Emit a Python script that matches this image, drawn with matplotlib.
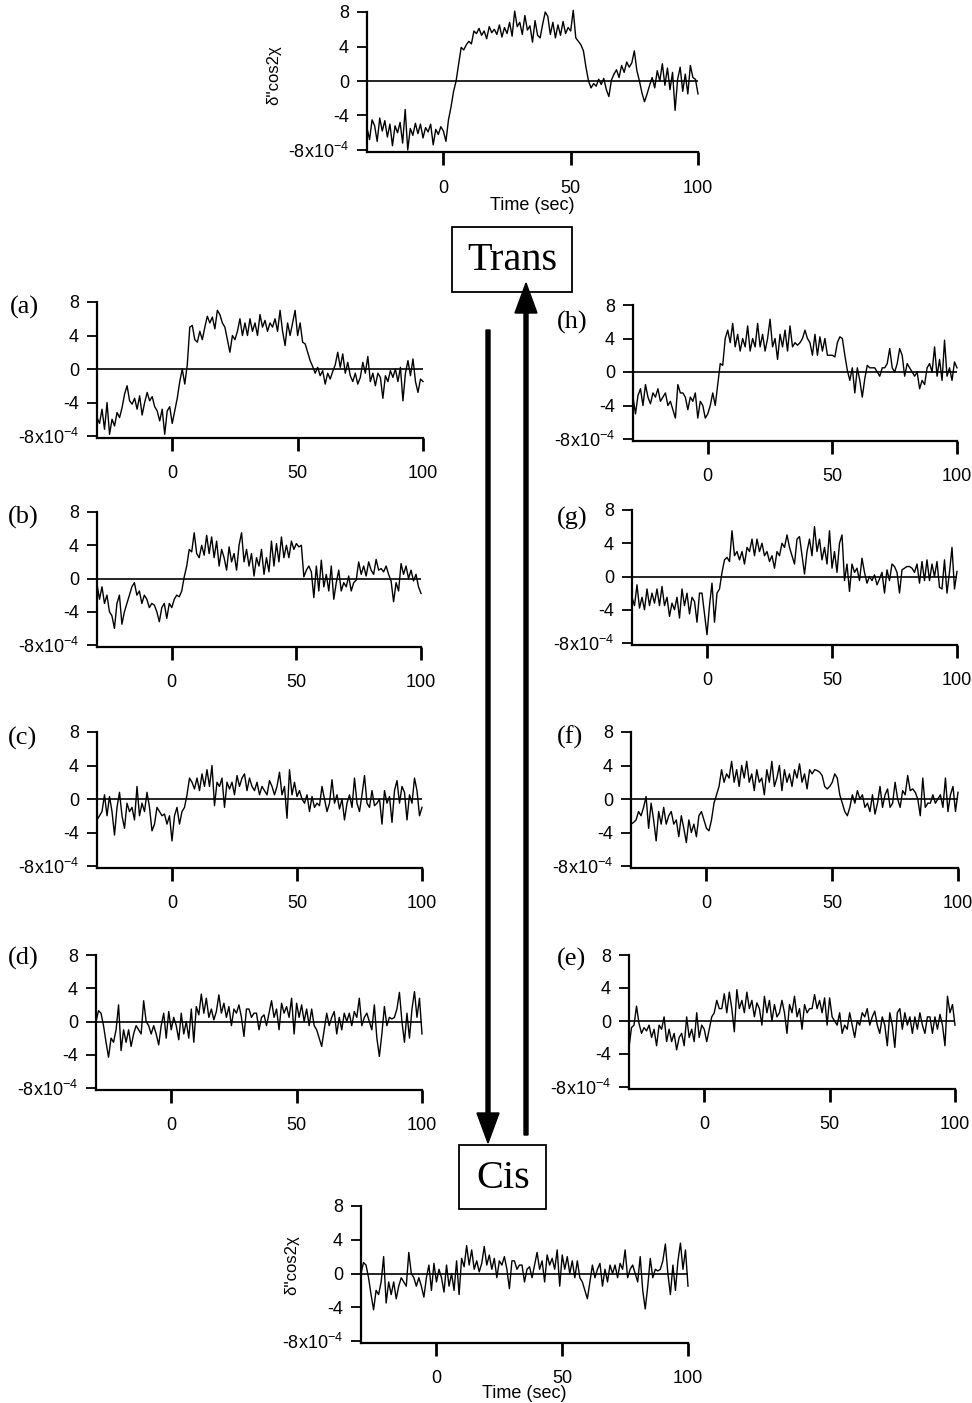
import numpy as np
import matplotlib
matplotlib.use('Agg')
import matplotlib.pyplot as plt
from matplotlib.patches import FancyArrow, Rectangle

plt.rcParams['font.family'] = ['Liberation Sans', 'DejaVu Sans']
plt.rcParams['mathtext.fontset'] = 'custom'
plt.rcParams['mathtext.rm'] = 'Liberation Sans'
plt.rcParams['mathtext.it'] = 'Liberation Sans:italic'
plt.rcParams['mathtext.bf'] = 'Liberation Sans:bold'
plt.rcParams['mathtext.sf'] = 'Liberation Sans'

W, H = 972, 1403

# tempo (s), um ponto por segundo
t = np.arange(-30, 101)

trans = [-5.4, -6.8, -4.5, -5.2, -7.0, -4.3, -5.8, -4.6, -6.5, -5.0,
         -7.5, -5.2, -6.0, -4.8, -7.2, -3.3, -8.0, -5.5, -6.3, -4.9,
         -6.1, -5.0, -6.6, -5.4, -5.9, -5.0, -7.4, -5.6, -6.2, -5.3,
         -5.8, -7.0, -4.5, -3.0, -1.2, 0.0, 2.0, 3.9, 3.6, 4.2,
         4.6, 4.3, 5.8, 5.5, 6.1, 5.3, 5.8, 4.9, 6.3, 5.6,
         6.0, 5.4, 6.5, 5.1, 6.2, 5.5, 6.8, 5.2, 8.1, 6.3,
         6.8, 5.4, 7.6, 5.9, 6.4, 4.5, 7.0, 5.3, 5.0, 6.6,
         8.0, 7.5, 5.4, 6.8, 5.0, 6.5, 5.3, 6.9, 5.5, 6.2,
         5.8, 8.2, 5.0, 4.6, 4.2, 3.5, 1.6, 0.0, -0.8, -0.3,
         -0.6, 0.2, -0.4, 0.3, -1.0, -1.8, 0.1, 0.8, 1.3, 0.4,
         1.8, 1.0, 2.2, 1.6, 2.1, 3.5, 1.2, 0.0, -1.4, -2.4,
         -1.5, -0.5, 0.4, -0.8, 1.2, 0.0, 2.0, -0.5, 1.5, -1.0,
         1.0, -3.4, 0.2, 1.6, -1.2, 0.8, -1.5, 1.8, 0.4, 0.2,
         -1.5]

a = [-5.8, -6.5, -4.8, -7.2, -4.0, -7.8, -6.0, -6.8, -5.2, -5.8,
     -4.6, -3.0, -2.0, -3.8, -4.2, -3.5, -4.8, -3.2, -5.5, -4.0,
     -2.8, -3.8, -3.3, -4.5, -5.0, -6.2, -4.8, -7.8, -5.0, -4.5,
     -6.5, -5.0, -3.5, -1.5, 0.0, -1.8, 0.5, 5.0, 5.2, 3.5,
     3.2, 4.5, 3.5, 5.0, 6.3, 5.5, 6.2, 4.8, 7.0, 6.5,
     5.5, 5.0, 3.5, 2.0, 4.0, 3.5, 4.5, 6.0, 4.0, 5.5,
     4.0, 6.0, 4.5, 5.5, 4.0, 6.5, 5.0, 5.8, 4.5, 5.5,
     5.0, 6.0, 4.5, 7.0, 4.5, 2.8, 5.5, 4.0, 5.5, 7.0,
     4.0, 5.5, 3.2, 3.0, 2.0, 1.0, 0.3, -0.5, 0.2, -0.8,
     -0.2, -1.8, -0.5, -1.2, -0.3, 0.5, 2.0, 0.2, 1.8, -0.5,
     0.8, -0.8, -1.5, -0.5, -1.8, -1.0, 0.8, -0.5, 1.5, -1.5,
     -0.5, -2.0, -0.5, -1.0, -3.5, -0.8, -1.5, -0.2, -1.0, 0.0,
     -1.5, 0.2, -3.8, -0.5, 1.0, -0.8, 1.2, -1.5, -2.8, -1.2,
     -1.5]

b = [-0.7, -2.5, -1.0, -3.0, -2.0, -4.0, -4.5, -6.0, -3.0, -2.0,
     -5.5, -4.0, -3.0, -2.0, -1.0, -0.5, -2.0, -1.5, -3.0, -2.0,
     -2.5, -3.5, -3.0, -3.2, -4.0, -5.2, -3.5, -3.0, -4.8, -3.0,
     -3.5, -2.5, -2.0, -2.2, -1.5, 0.2, 1.5, 3.5, 3.2, 5.5,
     3.0, 2.5, 4.0, 2.8, 5.2, 3.0, 5.0, 2.5, 4.5, 1.5,
     3.5, 2.5, 1.0, 3.8, 2.0, 3.0, 1.0, 4.0, 5.5, 2.0,
     3.5, 1.5, 3.0, 0.3, 2.5, 1.5, 3.5, 0.5, 2.5, 0.8,
     4.5, 1.5, 4.2, 2.0, 5.0, 2.5, 4.0, 2.5, 4.5, 3.5,
     4.2, 3.8, 4.0, 0.2, 1.0, 1.5, 0.8, -2.3, 1.5, -1.5,
     2.2, -1.0, 0.5, -1.5, 1.5, -2.5, -0.5, 1.0, -1.5, -0.5,
     -1.0, 0.3, -1.5, -0.5, -0.2, 2.0, 0.5, 1.5, 0.3, 2.0,
     1.0, 0.5, 2.3, 1.0, 1.2, 0.8, 1.5, 0.5, -0.3, -2.8,
     -0.5, -1.5, 1.8, 0.5, 1.5, 0.0, 1.0, -0.3, 0.5, -1.0,
     -1.8]

c = [-2.5, -2.0, -1.5, 0.5, -2.0, 0.3, -1.5, -4.3, -1.0, 0.8,
     -2.0, -3.5, -0.5, -1.5, -1.0, -2.5, 1.5, -2.0, -0.5, -1.5,
     0.8, -1.0, -3.8, -3.0, -1.0, -1.5, -2.0, -1.8, -3.0, -2.0,
     -5.0, -2.0, -1.0, -3.0, -1.5, -1.0, 0.5, 2.5, 2.0, 1.2,
     2.5, 1.0, 3.0, 1.5, 3.5, 1.5, 4.0, -0.8, 2.0, 1.5,
     2.5, -1.0, 2.0, 1.2, 2.0, 0.5, 2.8, 1.5, 2.5, 3.0,
     1.0, 2.5, 1.5, 1.0, 2.0, 0.5, 1.5, 1.0, 0.5, 2.2,
     1.5, 0.5, 1.5, 3.2, 0.5, 1.5, -2.3, 3.5, 0.5, 2.0,
     0.3, 1.0, 0.0, -0.5, 0.5, -1.5, 0.3, -1.0, -0.5, -0.8,
     1.5, 0.0, -1.5, -0.5, 2.3, -0.5, 0.5, -1.2, 0.0, -2.5,
     -0.5, 0.5, -1.0, 2.5, -0.5, -1.5, 0.5, 2.8, -0.5, -1.0,
     1.0, -0.8, -0.5, 0.0, -3.0, 1.0, -0.5, 0.3, -2.8, 1.0,
     2.2, -0.5, 1.5, 0.8, -2.5, 0.5, -0.5, 2.5, 1.0, -2.0,
     -1.0]

d = [0.0, 1.3, 1.0, -0.5, -2.5, -4.3, -2.0, -2.5, -1.0, 2.0,
     -3.5, -1.0, -2.5, -1.0, -3.0, -1.5, -0.5, -1.0, -1.5, 2.5,
     0.0, -0.5, -1.5, -0.5, -1.5, -2.8, -0.5, 1.0, -2.0, 1.2,
     -1.0, 0.5, -0.5, -2.2, 1.0, -1.5, 0.0, -2.0, 1.5, -2.5,
     1.8, 0.8, 3.3, 1.0, 2.8, 0.5, 1.5, 0.2, 1.2, 3.2,
     1.0, 2.2, 0.5, 1.8, -0.5, 1.5, 1.0, 2.0, 0.5, -1.8,
     1.5, 1.5, 0.5, 1.0, 1.0, -1.0, 0.5, 0.8, -0.5, 1.0,
     2.5, 0.5, 1.5, -1.0, 2.2, 1.0, 1.8, 0.5, 2.8, -1.5,
     2.2, 0.5, 2.0, 0.0, 1.5, -0.5, 1.5, -0.5, -1.0, -2.0,
     -3.0, -1.0, 1.0, -0.5, 0.5, 1.2, -1.5, 0.5, -1.0, 1.0,
     0.0, 1.0, -0.5, 1.2, 0.5, 2.8, -0.5, 0.5, 1.0, 0.0,
     -1.0, 2.0, -2.0, -4.2, -1.5, 1.8, -0.5, 0.5, 0.3, 0.5,
     1.5, 3.5, 0.0, -2.5, 1.0, -2.0, 1.5, 3.6, 0.5, 2.8,
     -1.5]

e = [-3.2, -0.8, -0.5, 1.8, -0.3, -1.5, -0.8, -1.2, -0.5, -2.0,
     -1.0, -3.0, -0.5, -1.0, 0.5, -2.5, -1.0, -2.5, -1.5, -3.5,
     -2.0, -1.5, -3.0, 0.5, -2.0, -1.0, -2.5, 1.0, -2.0, -0.5,
     -1.0, -2.5, -1.0, 0.5, 1.0, 2.5, 1.5, 1.5, 3.3, 1.0,
     3.5, 1.5, -1.3, 3.8, 1.5, 2.5, 1.0, 3.5, 1.5, 2.5,
     0.5, 2.2, 1.5, -0.5, 3.0, 1.0, 2.5, 0.0, 2.0, 0.5,
     1.0, 2.5, 1.0, -1.5, 2.0, 1.0, 3.0, 0.5, 1.5, -1.0,
     2.0, 1.0, 1.5, 1.5, 3.2, 1.5, 2.5, 1.0, 2.8, -0.5,
     2.8, 0.5, 0.0, -0.5, 1.0, -1.5, -0.5, -1.0, 1.0, -0.5,
     -2.0, 0.0, -0.5, 1.0, 0.5, 1.5, -0.5, 0.5, 1.2, -0.5,
     -1.5, 0.5, -0.5, -3.0, 1.0, -0.5, -3.2, 1.0, 1.5, -1.0,
     1.0, -0.5, 0.5, -1.5, 0.5, -1.0, 1.0, -0.5, -1.5, 0.5,
     0.5, -1.5, 0.5, -1.0, 0.8, -0.5, -3.0, 3.0, 1.0, 2.0,
     -0.5]

f = [-3.0, -2.8, -2.5, -1.5, -2.0, -1.0, 0.3, -3.5, -0.5, -2.5,
     -5.0, -1.5, -3.0, -1.0, -3.0, -2.0, -1.5, -3.0, -2.5, -4.5,
     -2.0, -3.5, -5.2, -2.5, -4.0, -3.0, -4.5, -2.0, -1.5, -2.5,
     -3.5, -3.8, -2.5, -0.5, 0.5, 1.5, 3.5, 2.0, 3.0, 2.5,
     4.5, 2.0, 3.5, 1.5, 4.0, 2.5, 4.5, 2.0, 3.0, 1.0,
     3.5, 2.0, 2.5, 0.5, 3.5, 2.0, 4.5, 1.5, 2.5, 4.0,
     1.0, 3.5, 2.0, 3.0, 1.5, 3.5, 2.5, 4.2, 2.0, 3.0,
     1.2, 3.5, 3.0, 3.5, 3.4, 3.2, 2.8, 1.5, 1.2, 1.5,
     2.0, 3.0, 2.5, 0.5, -0.5, -1.5, -2.0, -1.0, 0.5, -0.5,
     1.0, 0.0, 0.5, -1.0, -0.5, -1.5, 0.5, -1.8, -0.5, 1.5,
     -1.0, 0.5, 1.2, -1.0, -0.5, 2.0, 0.0, -1.0, 1.0, 0.5,
     2.8, 1.0, 1.2, 0.8, 0.0, -2.0, 2.5, -1.0, -0.5, -0.5,
     0.5, -0.5, 0.0, 0.5, -1.0, 2.5, -1.5, 0.5, 1.5, -1.5,
     0.8]

g = [-2.5, -3.5, -1.0, -3.8, -2.5, -4.0, -1.5, -3.5, -2.0, -3.2,
     -1.5, -3.5, -1.2, -3.5, -2.5, -4.8, -3.2, -4.0, -2.5, -5.0,
     -1.5, -3.5, -2.0, -4.5, -2.5, -3.0, -5.5, -2.0, -2.0, -4.5,
     -7.0, -3.5, -0.8, -5.5, -2.0, -1.5, 0.5, 2.0, 2.3, 1.8,
     5.5, 2.5, 3.0, 2.0, 3.0, 1.5, 3.5, 3.0, 4.5, 2.5,
     4.5, 3.0, 4.0, 2.5, 3.0, 1.8, 2.5, 1.0, 3.0, 2.5,
     4.0, 3.5, 5.0, 3.5, 2.5, 1.5, 4.5, 4.8, 2.5, 0.3,
     3.0, 4.5, 2.5, 6.0, 3.0, 4.5, 2.0, 3.5, 1.5, 5.5,
     1.0, 3.0, 0.5, 4.0, 5.0, -0.5, 1.5, -1.8, 1.5, 0.5,
     1.0, -0.5, 2.2, 0.5, -0.8, 0.0, -0.5, 0.2, -1.0, -0.3,
     0.5, -2.0, 0.8, -0.5, 1.5, 1.2, 0.5, -2.0, 0.8, 1.0,
     1.2, 1.2, 1.0, 0.5, 1.5, -0.8, 1.8, -0.5, 2.0, -0.5,
     1.5, 0.0, 1.8, -1.3, -1.5, 2.0, -2.0, 0.5, 3.5, -1.5,
     0.6]

h = [-3.0, -5.0, -2.8, -2.0, -4.0, -1.5, -3.0, -3.8, -2.5, -3.0,
     -2.0, -3.5, -3.0, -2.5, -4.0, -3.5, -4.5, -5.5, -1.5, -2.5,
     -2.5, -3.0, -4.5, -3.0, -3.5, -2.5, -5.5, -3.5, -4.0, -5.5,
     -5.0, -4.0, -2.5, -4.0, -1.5, 1.0, 0.8, 4.0, 5.0, 3.5,
     5.8, 3.0, 4.5, 2.5, 4.0, 3.0, 5.5, 2.5, 4.0, 3.0,
     5.8, 3.0, 4.5, 2.5, 4.0, 6.3, 3.0, 4.0, 1.5, 4.5,
     3.0, 5.0, 2.5, 5.5, 3.0, 3.5, 3.2, 3.5, 4.0, 5.0,
     4.0, 3.5, 2.0, 4.5, 2.0, 4.2, 2.5, 4.0, 2.0, 2.0,
     2.0, 1.8, 3.5, 4.2, 4.0, 2.0, 0.2, -1.0, 0.5, -2.5,
     0.5, -1.0, -3.0, -0.8, 0.8, 0.5, 0.5, 0.5, 0.0, -0.5,
     0.5, 0.5, 1.0, 2.8, 0.5, 0.0, 1.0, 2.8, 2.0, -0.5,
     1.0, 0.5, 0.0, -0.5, 0.0, -2.0, -1.0, -1.5, 0.5, 1.0,
     0.0, 3.0, -0.5, 1.5, -1.0, 3.8, -0.5, 0.5, -1.0, 1.2,
     0.5]

cis = d  # o traço Cis é o mesmo de (d)

yticks = [8, 4, 0, -4, -8]
yticklabels = ['8', '4', '0', '-4', r'-8x10$^{-4}$']
xticks = [0, 50, 100]
xticklabels = ['0', '50', '100']

fig = plt.figure(figsize=(W / 100, H / 100), dpi=100)


def painel(serie, x0, x1, y8, ym8):
    ybot = ym8 + 0.2 * (ym8 - y8) / 16
    ax = fig.add_axes([x0 / W, 1 - ybot / H, (x1 - x0) / W, (ybot - y8) / H])
    ax.plot(t, serie, color='k', lw=1.0, clip_on=False)
    ax.axhline(0, color='k', lw=1.2)
    ax.set_xlim(-30, 100)
    ax.set_ylim(-8.2, 8)
    ax.set_yticks(yticks)
    ax.set_yticklabels(yticklabels)
    ax.set_xticks(xticks)
    ax.set_xticklabels(xticklabels)
    for s in ['top', 'right']:
        ax.spines[s].set_visible(False)
    for s in ['left', 'bottom']:
        ax.spines[s].set_linewidth(1.6)
    ax.tick_params(axis='y', direction='out', length=7, width=1.3, pad=6, labelsize=13)
    ax.tick_params(axis='x', direction='out', length=9, width=2, pad=11, labelsize=13)
    ax.set_facecolor('none')
    return ax


painel(trans, 367, 698, 12, 150)
painel(a, 97, 423, 302, 436)
painel(b, 97, 421, 512, 645)
painel(c, 97, 422, 732, 866)
painel(d, 96, 422, 955, 1088)
painel(h, 633, 957, 305, 439)
painel(g, 632, 957, 510, 643)
painel(f, 631, 958, 732, 866)
painel(e, 629, 955, 955, 1087)
painel(cis, 361, 688, 1206, 1341)

# rótulos dos painéis
rotulos = [('(a)', 10, 307), ('(b)', 8, 517), ('(c)', 8, 738), ('(d)', 8, 958),
           ('(h)', 557, 322), ('(g)', 557, 518), ('(f)', 557, 737), ('(e)', 557, 959)]
for txt, x, y in rotulos:
    fig.text(x / W, 1 - y / H, txt, fontsize=19, family='Liberation Serif',
             ha='left', va='center')

# eixos dos painéis de cima e de baixo
fig.text(274 / W, 1 - 75 / H, "δ''cos2χ", rotation=90, fontsize=12, ha='center', va='center')
fig.text(532 / W, 1 - 205 / H, 'Time (sec)', fontsize=13, ha='center', va='center')
fig.text(292 / W, 1 - 1265 / H, "δ''cos2χ", rotation=90, fontsize=12, ha='center', va='center')
fig.text(524 / W, 1 - 1394 / H, 'Time (sec)', fontsize=13, ha='center', va='center')

# camada em pixels para caixas e setas
ov = fig.add_axes([0, 0, 1, 1])
ov.set_xlim(0, W)
ov.set_ylim(H, 0)
ov.axis('off')
ov.set_facecolor('none')

ov.add_patch(Rectangle((452, 227), 120, 65, fill=False, lw=1.3, ec='k'))
ov.text(512, 261, 'Trans', fontsize=29, family='Liberation Serif', ha='center', va='center')
ov.add_patch(Rectangle((459, 1145), 87, 64, fill=False, lw=1.3, ec='k'))
ov.text(503, 1179, 'Cis', fontsize=29, family='Liberation Serif', ha='center', va='center')

ov.add_patch(FancyArrow(488, 330, 0, 813, width=4, head_width=22, head_length=30,
                        length_includes_head=True, color='k'))
ov.add_patch(FancyArrow(526, 1135, 0, -852, width=4, head_width=22, head_length=30,
                        length_includes_head=True, color='k'))

fig.savefig('out.png', dpi=100)
